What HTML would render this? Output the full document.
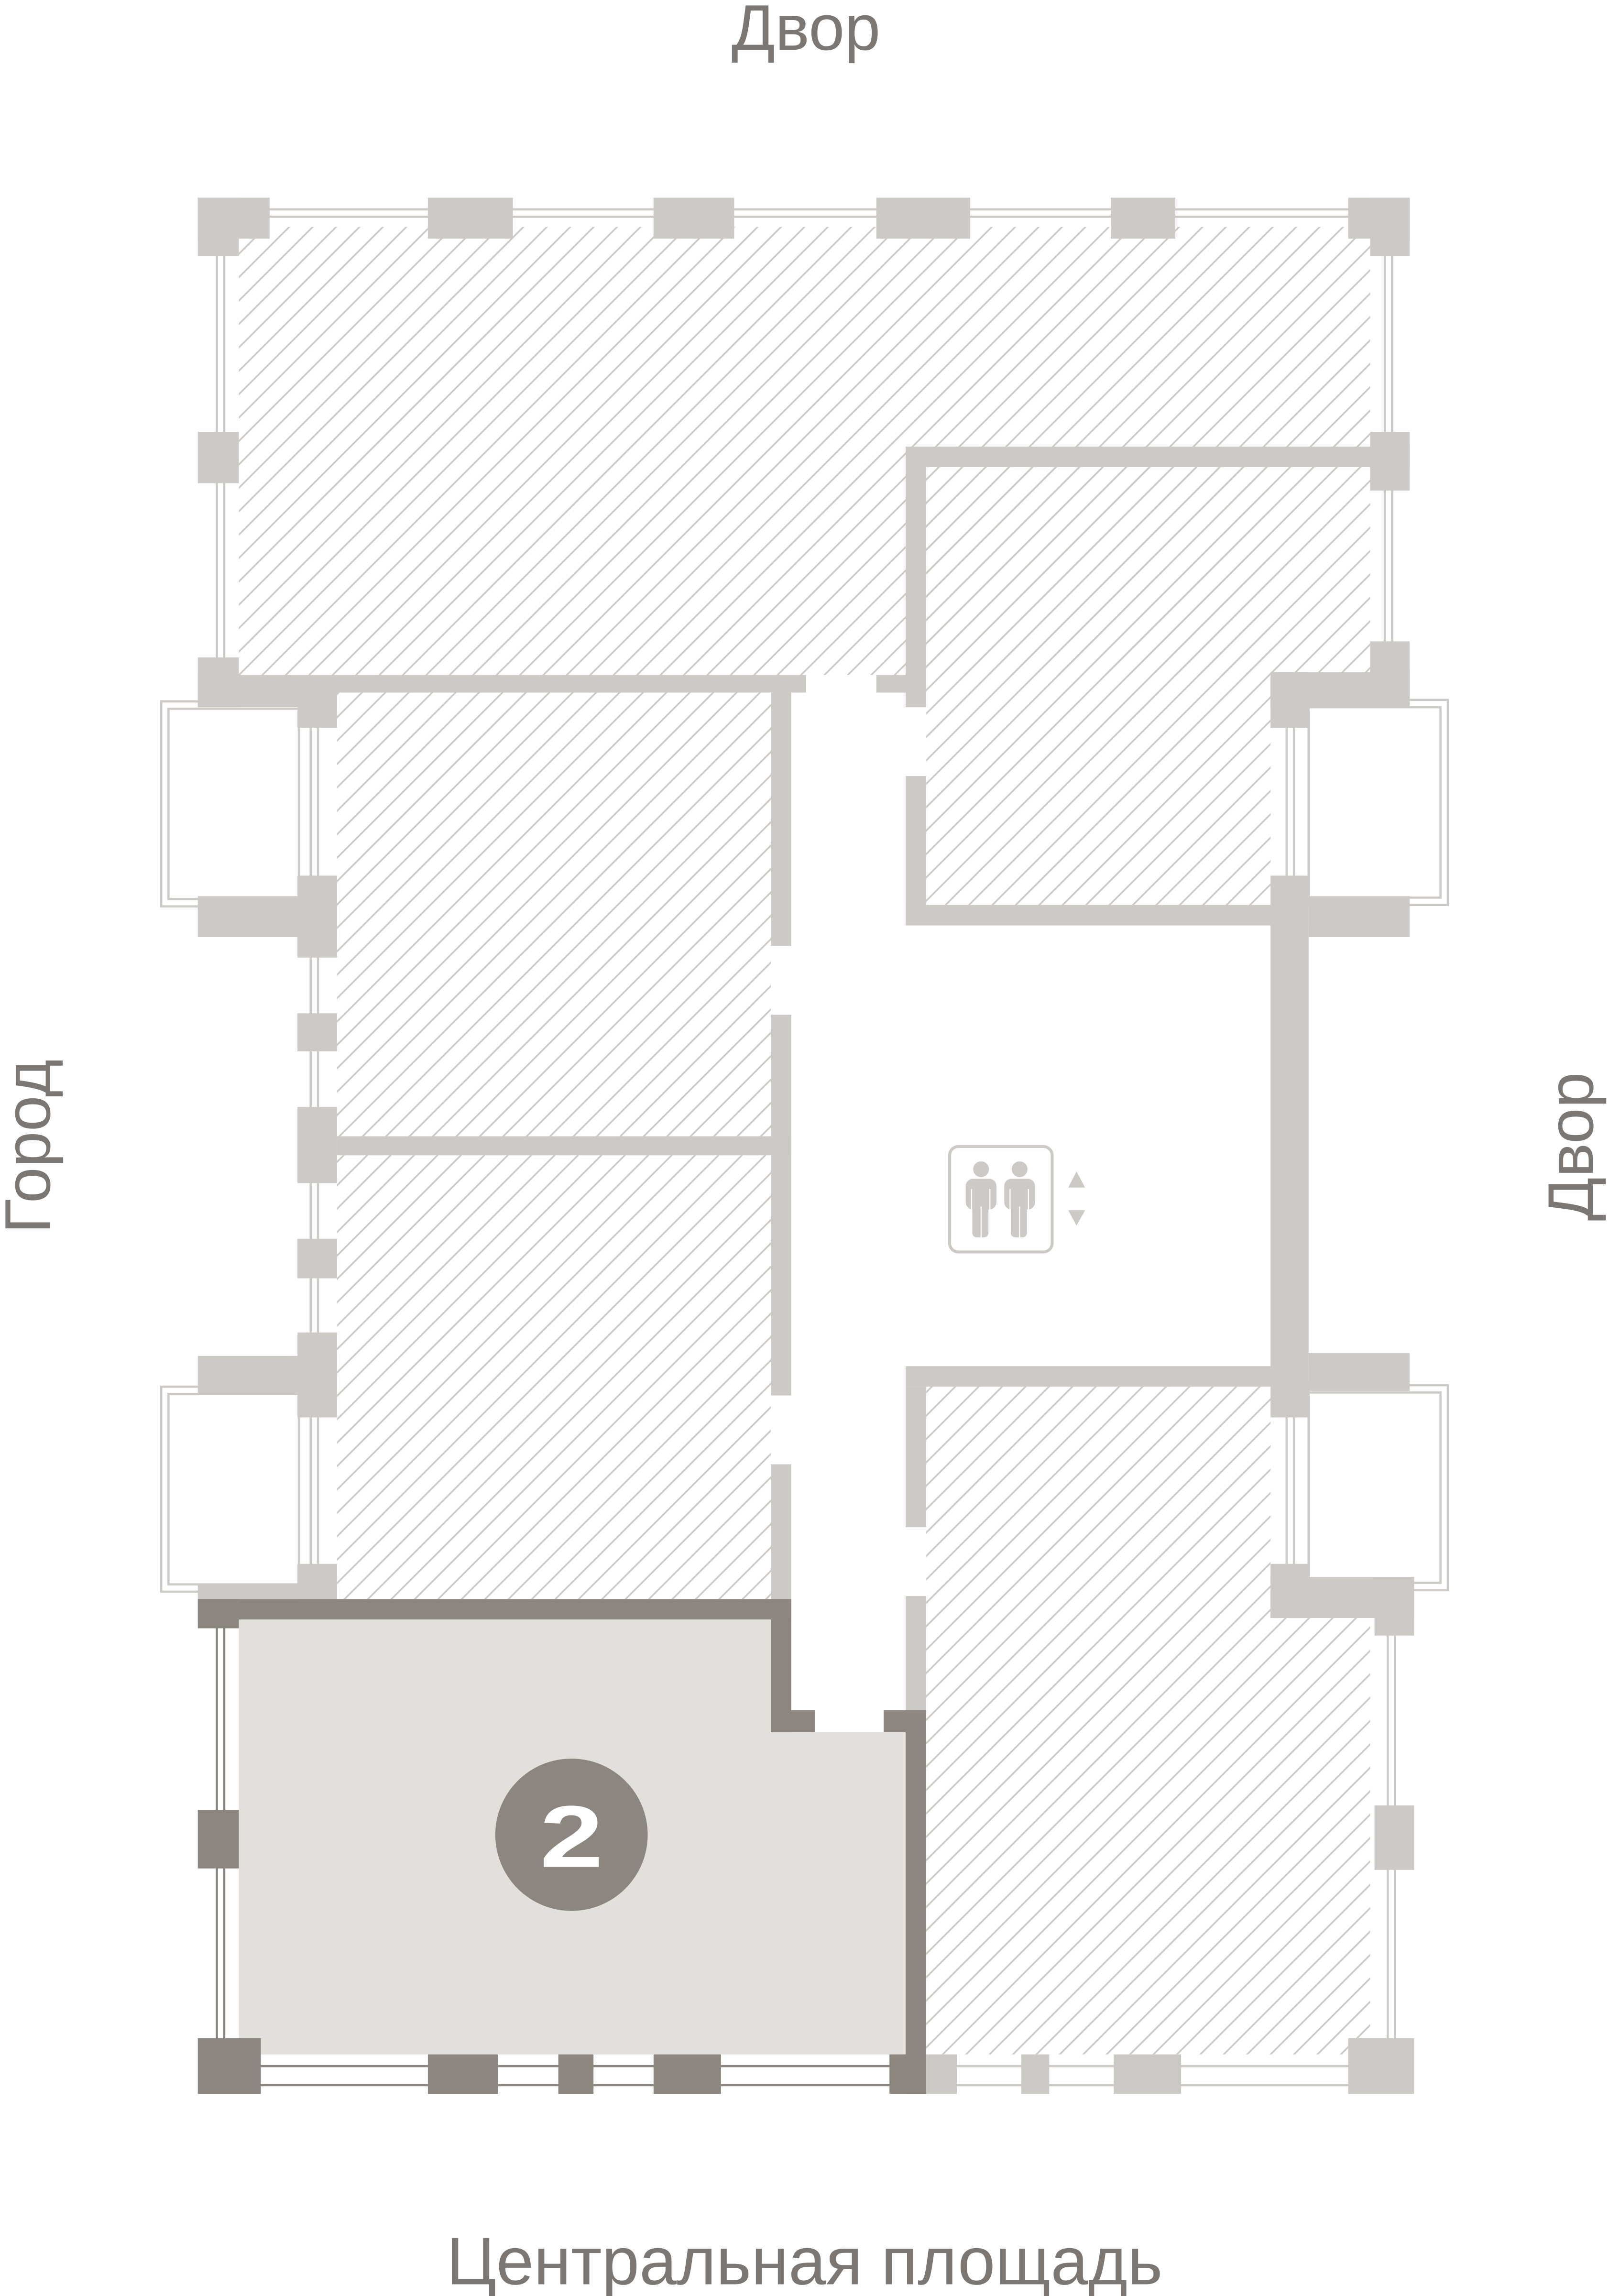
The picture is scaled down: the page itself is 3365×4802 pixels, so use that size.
<!DOCTYPE html>
<html><head><meta charset="utf-8"><style>
html,body{margin:0;padding:0;background:#fff;}
svg{display:block;}
</style></head><body>
<svg width="3365" height="4802" viewBox="0 0 1098 1568" preserveAspectRatio="none" xmlns="http://www.w3.org/2000/svg">
<defs>
<pattern id="h" patternUnits="userSpaceOnUse" width="11.3" height="11.3" patternTransform="rotate(45)">
<rect x="0" y="0" width="1.15" height="11.3" fill="#cdcac6"/>
</pattern>
</defs>
<rect width="1098" height="1568" fill="#fff"/>
<g fill="url(#h)">
<rect x="163" y="155" width="772" height="306"/>
<rect x="632" y="319" width="235" height="299"/>
<rect x="230" y="473" width="296" height="303"/>
<rect x="230" y="789" width="296" height="303"/>
<rect x="632" y="947" width="235" height="160"/>
<rect x="632" y="1105" width="303" height="298"/>
</g>
<rect x="550" y="461" width="68" height="10" fill="#fff"/>
<g fill="none" stroke="#cdcac6" stroke-width="1.5">
<line x1="160" y1="143" x2="940" y2="143"/><line x1="160" y1="148" x2="940" y2="148"/>
<line x1="148" y1="160" x2="148" y2="455"/><line x1="153" y1="160" x2="153" y2="455"/>
<line x1="945" y1="160" x2="945" y2="445"/><line x1="950" y1="160" x2="950" y2="445"/>
<line x1="212" y1="480" x2="212" y2="1090"/><line x1="217" y1="480" x2="217" y2="1090"/>
<line x1="878" y1="480" x2="878" y2="620"/><line x1="883" y1="480" x2="883" y2="620"/>
<line x1="878" y1="945" x2="878" y2="1085"/><line x1="883" y1="945" x2="883" y2="1085"/>
<line x1="947" y1="1100" x2="947" y2="1400"/><line x1="952" y1="1100" x2="952" y2="1400"/>
<line x1="632" y1="1411" x2="940" y2="1411"/><line x1="632" y1="1424" x2="940" y2="1424"/>
<rect x="110" y="479" width="94" height="140"/><rect x="115" y="484" width="89" height="130"/>
<rect x="110" y="947" width="94" height="140"/><rect x="115" y="952" width="89" height="130"/>
<rect x="893" y="478" width="95" height="140"/><rect x="893" y="483" width="90" height="130"/>
<rect x="893" y="946" width="95" height="140"/><rect x="893" y="951" width="90" height="130"/>
</g>
<g fill="#cdcac6">
<rect x="135" y="135" width="49" height="28"/><rect x="135" y="135" width="28" height="40"/>
<rect x="292" y="135" width="58" height="28"/>
<rect x="446" y="135" width="55" height="28"/>
<rect x="598" y="135" width="64" height="28"/>
<rect x="758" y="135" width="44" height="28"/>
<rect x="920" y="135" width="42" height="28"/><rect x="935" y="135" width="27" height="40"/>
<rect x="135" y="295" width="28" height="35"/>
<rect x="135" y="449" width="28" height="34"/>
<rect x="135" y="461" width="415" height="12"/>
<rect x="135" y="473" width="95" height="10"/>
<rect x="203" y="473" width="27" height="24"/>
<rect x="598" y="461" width="20" height="12"/>
<rect x="203" y="598" width="27" height="56"/><rect x="135" y="612" width="95" height="28"/>
<rect x="203" y="692" width="27" height="26"/>
<rect x="203" y="756" width="27" height="52"/>
<rect x="230" y="776" width="310" height="13"/>
<rect x="203" y="846" width="27" height="27"/>
<rect x="203" y="910" width="27" height="58"/><rect x="135" y="926" width="95" height="26"/>
<rect x="203" y="1068" width="27" height="24"/><rect x="135" y="1082" width="95" height="10"/>
<rect x="526" y="473" width="14" height="173"/>
<rect x="526" y="693" width="14" height="260"/>
<rect x="526" y="1000" width="14" height="92"/>
<rect x="618" y="305" width="344" height="14"/>
<rect x="935" y="295" width="27" height="40"/>
<rect x="618" y="305" width="14" height="178"/>
<rect x="618" y="530" width="14" height="102"/>
<rect x="618" y="618" width="275" height="14"/>
<rect x="935" y="438" width="27" height="45"/>
<rect x="867" y="459" width="95" height="24"/>
<rect x="867" y="459" width="26" height="38"/>
<rect x="867" y="598" width="26" height="370"/>
<rect x="893" y="612" width="69" height="28"/>
<rect x="893" y="924" width="69" height="26"/>
<rect x="618" y="933" width="275" height="14"/>
<rect x="618" y="947" width="14" height="96"/>
<rect x="618" y="1090" width="14" height="80"/>
<rect x="867" y="1068" width="26" height="37"/>
<rect x="867" y="1077" width="98" height="28"/>
<rect x="938" y="1077" width="27" height="40"/>
<rect x="938" y="1233" width="27" height="44"/>
<rect x="920" y="1392" width="45" height="38"/>
<rect x="760" y="1403" width="46" height="27"/>
<rect x="697" y="1403" width="19" height="27"/>
<rect x="632" y="1403" width="21" height="27"/>
</g>
<path d="M163 1106 H526 V1183 H618 V1403 H163 Z" fill="#e3e0db"/>
<g fill="none" stroke="#8c867e" stroke-width="1.5">
<line x1="148" y1="1106" x2="148" y2="1400"/><line x1="153" y1="1106" x2="153" y2="1400"/>
<line x1="170" y1="1411" x2="610" y2="1411"/><line x1="170" y1="1424" x2="610" y2="1424"/>
</g>
<g fill="#8c867e">
<rect x="135" y="1092" width="405" height="14"/>
<rect x="135" y="1092" width="28" height="20"/>
<rect x="526" y="1092" width="14" height="91"/>
<rect x="526" y="1168" width="30" height="15"/>
<rect x="603" y="1168" width="29" height="15"/>
<rect x="618" y="1168" width="14" height="262"/>
<rect x="135" y="1236" width="28" height="40"/>
<rect x="135" y="1392" width="43" height="38"/>
<rect x="292" y="1403" width="48" height="27"/>
<rect x="381" y="1403" width="24" height="27"/>
<rect x="446" y="1403" width="46" height="27"/>
<rect x="607" y="1403" width="25" height="27"/>
<circle cx="390" cy="1253" r="52"/>
</g>
<text x="390" y="1275" text-anchor="middle" font-family="Liberation Sans, sans-serif" font-weight="bold" font-size="60" fill="#fff" transform="translate(390 1253) scale(1.3 1) translate(-390 -1253)">2</text>
<rect x="648" y="783" width="70" height="72" rx="6" fill="none" stroke="#cdcac6" stroke-width="2"/>
<g fill="#cdcac6">
<circle cx="669.5" cy="798.5" r="5.4"/>
<rect x="659" y="805" width="21" height="21" rx="5"/>
<rect x="663.5" y="810" width="11" height="35" rx="3"/>
<circle cx="695.8" cy="798.5" r="5.4"/>
<rect x="685.3" y="805" width="21" height="21" rx="5"/>
<rect x="689.8" y="810" width="11" height="35" rx="3"/>
<path d="M729 811 L734.6 800 L740.5 811 Z"/><path d="M729 826.5 L734.6 837 L740.5 826.5 Z"/>
</g>
<g stroke="#fff" stroke-width="0.8">
<line x1="663" y1="812" x2="663" y2="827"/><line x1="675.5" y1="812" x2="675.5" y2="827"/>
<line x1="669.5" y1="824" x2="669.5" y2="846"/>
<line x1="689.3" y1="812" x2="689.3" y2="827"/><line x1="701.8" y1="812" x2="701.8" y2="827"/>
<line x1="695.8" y1="824" x2="695.8" y2="846"/>
</g>
<g font-family="Liberation Sans, sans-serif" font-size="44" fill="#7c7772">
<text x="550" y="34" text-anchor="middle">Двор</text>
<text x="549" y="1560" text-anchor="middle" font-size="46">Центральная площадь</text>
<text transform="translate(34 783) rotate(-90)" text-anchor="middle">Город</text>
<text transform="translate(1087 783) rotate(-90)" text-anchor="middle">Двор</text>
</g>
</svg>
</body></html>
